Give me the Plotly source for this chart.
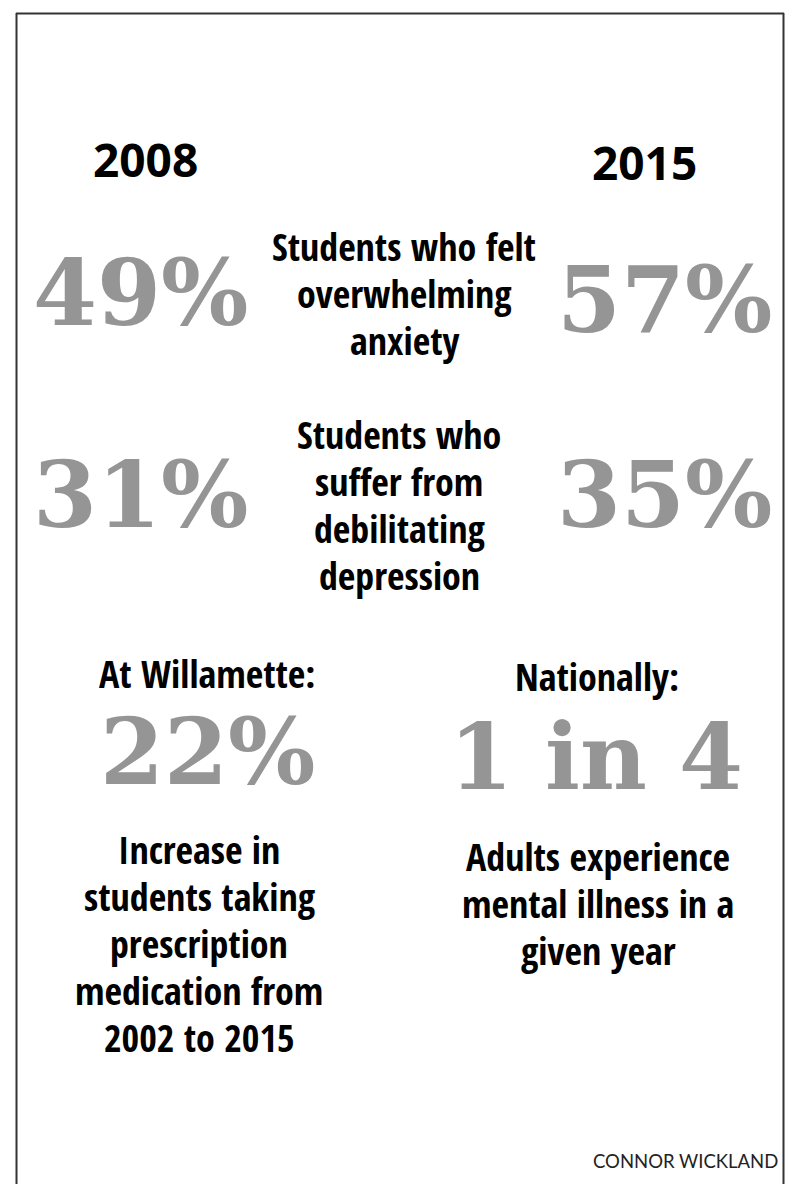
import plotly.graph_objects as go

# ---- data ----
years = ["2008", "2015"]
anxiety_pct = [49, 57]
depression_pct = [31, 35]
anxiety_label = ["Students who felt", "overwhelming", "anxiety"]
depression_label = ["Students who", "suffer from", "debilitating", "depression"]
panel_headers = ["At Willamette:", "Nationally:"]
panel_values = ["22%", "1 in 4"]
local_caption = ["Increase in", "students taking", "prescription", "medication from", "2002 to 2015"]
national_caption = ["Adults experience", "mental illness in a", "given year"]
credit = "CONNOR WICKLAND"

W, H = 809, 1184
BIG = dict(family="DejaVu Serif", size=92, color="#959595", weight="bold")
COND = dict(family="Open Sans Condensed", size=38, color="#000000", weight="bold")
YEAR = dict(family="Open Sans", size=46, color="#000000", weight="bold")
LINE_GAP = 47

fig = go.Figure()
ann = []

def add(text, x, y, font, xanchor="center"):
    ann.append(dict(text=text, x=x, y=y, xref="x", yref="y", showarrow=False,
                    font=font, xanchor=xanchor, yanchor="middle", align="center"))

def add_block(lines, x, y_first, font, gap=LINE_GAP):
    for i, ln in enumerate(lines):
        add(ln, x, y_first + i * gap, font)

# year headers
for yr, x, y in zip(years, [145, 644], [159, 162]):
    add(yr, x, y, YEAR)

# percentage rows
col_x = [140, 664]
row_y = [[293, 300], [495, 495]]
for r, vals in enumerate([anxiety_pct, depression_pct]):
    for c, v in enumerate(vals):
        add(f"{v}%", col_x[c], row_y[r][c], BIG)

add_block(anxiety_label, 404, 246, COND)
add_block(depression_label, 399, 434, COND)

# bottom panels
add(panel_headers[0], 207, 673, COND)
add(panel_headers[1], 597, 676, COND)
add(panel_values[0], 207, 752, BIG)
add(panel_values[1], 596, 757, BIG)
add_block(local_caption, 199, 849, COND)
add_block(national_caption, 598, 856, COND)

add(credit, 780, 1161, dict(family="Lato", size=18.5, color="#222222"), xanchor="right")

fig.update_layout(
    width=W, height=H, margin=dict(l=0, r=0, t=0, b=0),
    paper_bgcolor="white", plot_bgcolor="white",
    xaxis=dict(range=[0, W], visible=False, fixedrange=True),
    yaxis=dict(range=[H, 0], visible=False, fixedrange=True),
    annotations=ann, showlegend=False,
    shapes=[
        dict(type="line", xref="x", yref="y", x0=16.5, x1=16.5, y0=13, y1=H,
             line=dict(color="#333333", width=2)),
        dict(type="line", xref="x", yref="y", x0=16, x1=784, y0=13.5, y1=13.5,
             line=dict(color="#333333", width=2)),
        dict(type="line", xref="x", yref="y", x0=783.5, x1=783.5, y0=13, y1=H,
             line=dict(color="#333333", width=2)),
    ],
)

fig.write_html("out.html", config={"displayModeBar": False},
               post_script="document.body.style.margin='0';")
